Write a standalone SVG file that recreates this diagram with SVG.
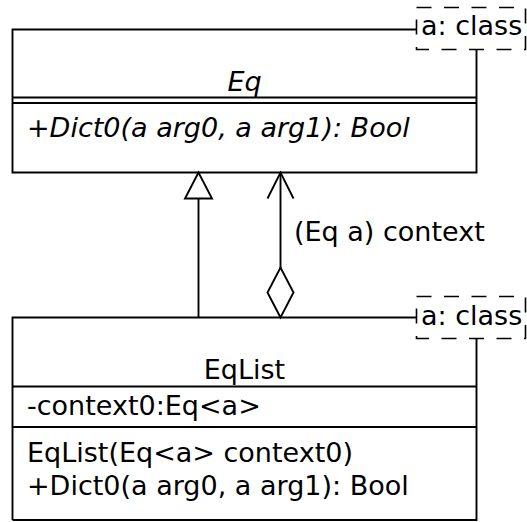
<svg xmlns="http://www.w3.org/2000/svg" width="527" height="522" viewBox="0 0 527 522">
  <style>
    .edge { fill: none; stroke: #000; stroke-width: 1.9; }
    .tpl { fill: #fff; stroke: #000; stroke-width: 1.6; stroke-dasharray: 15 12.5; }
    text { font-family: "DejaVu Sans", "Liberation Sans", sans-serif; font-size: 27px; fill: #000; }
    .abs { font-style: italic; }
    .mid { text-anchor: middle; }
  </style>
  <defs>
    <marker id="generalization" markerUnits="userSpaceOnUse" viewBox="-30 -16 34 32" refX="0" refY="0" markerWidth="34" markerHeight="32" orient="auto">
      <path d="M0,0 L-26,-13.5 L-26,13.5 Z" fill="#fff" stroke="#000" stroke-width="1.9"/>
    </marker>
    <marker id="open-arrow" markerUnits="userSpaceOnUse" viewBox="-30 -16 34 32" refX="0" refY="0" markerWidth="34" markerHeight="32" orient="auto">
      <path d="M-26,-13 L0,0 L-26,13" fill="none" stroke="#000" stroke-width="1.9"/>
    </marker>
    <marker id="aggregation" markerUnits="userSpaceOnUse" viewBox="-4 -16 58 32" refX="0" refY="0" markerWidth="58" markerHeight="32" orient="auto">
      <path d="M0,0 L25,-13 L50,0 L25,13 Z" fill="#fff" stroke="#000" stroke-width="1.9"/>
    </marker>
  </defs>

  <rect width="527" height="522" fill="#fff"/>

  <!-- interface Eq with its type parameter -->
  <g id="Eq">
    <path class="edge" d="M12.5,173.5 V29.5 H416.5 M476.5,49.5 V172.5 H12.5 M12.5,97.5 H476.5 M12.5,103 H476.5"/>
    <text class="abs mid" x="244.5" y="90.5">Eq</text>
    <text class="abs" x="27" y="137">+Dict0(a arg0, a arg1): Bool</text>
    <rect class="tpl" x="416.5" y="7.5" width="109" height="42"/>
    <text x="421" y="35">a: class</text>
  </g>

  <!-- class EqList with its type parameter -->
  <g id="EqList">
    <path class="edge" d="M12.5,520 V317.5 H416.5 M476.5,338.5 V520 H12.5 M12.5,386.5 H476.5 M12.5,427 H476.5"/>
    <text class="mid" x="244.5" y="379">EqList</text>
    <text x="27" y="415">-context0:Eq&lt;a&gt;</text>
    <text x="27" y="462">EqList(Eq&lt;a&gt; context0)</text>
    <text x="27" y="495">+Dict0(a arg0, a arg1): Bool</text>
    <rect class="tpl" x="416.5" y="296.5" width="109" height="42"/>
    <text x="421" y="324.5">a: class</text>
  </g>

  <!-- relationships -->
  <g id="connectors">
    <path class="edge" d="M198.5,317.5 V172.5" marker-end="url(#generalization)"/>
    <path class="edge" d="M280.5,317.5 V172.5" marker-start="url(#aggregation)" marker-end="url(#open-arrow)"/>
    <text x="294" y="240.5">(Eq a) context</text>
  </g>
</svg>
